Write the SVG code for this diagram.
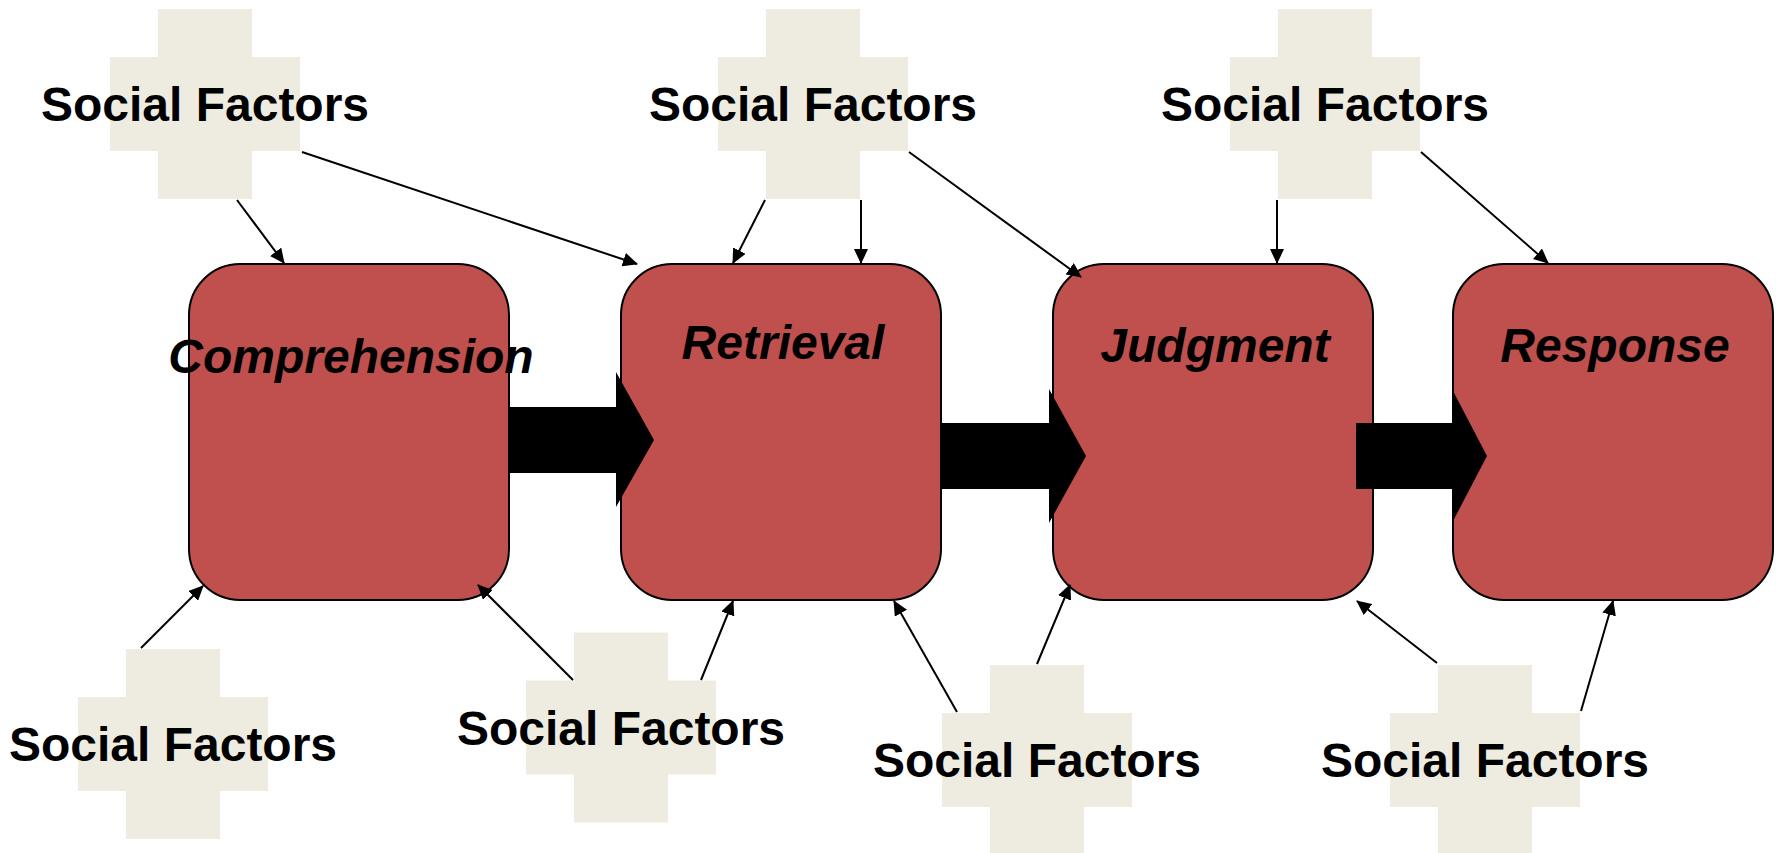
<svg xmlns="http://www.w3.org/2000/svg" width="1777" height="853" viewBox="0 0 1777 853">
<defs>
<style>
.box{fill:#C0504D;stroke:#000;stroke-width:2}
.cross{fill:#EEECE1}
.lbl{font-family:"Liberation Sans",Arial,sans-serif;font-size:48px;font-weight:bold;font-style:italic;fill:#000;text-anchor:middle}
.sf{font-family:"Liberation Sans",Arial,sans-serif;font-size:48px;font-weight:bold;fill:#000;text-anchor:middle}
.ln{stroke:#000;stroke-width:2;fill:none;marker-end:url(#ah)}
.blk{fill:#000}
</style>
<marker id="ah" viewBox="0 0 15 14" markerWidth="15" markerHeight="14" refX="14" refY="7" orient="auto" markerUnits="userSpaceOnUse">
<path d="M0,0 L15,7 L0,14 z" fill="#000"/>
</marker>
<path id="plus" d="M-47,-95 H47 V-47 H95 V47 H47 V95 H-47 V47 H-95 V-47 H-47 Z"/>
</defs>
<rect width="1777" height="853" fill="#fff"/>
<g id="comprehension"><rect class="box" x="189" y="264" width="320" height="336" rx="51" ry="51"/><text class="lbl" x="351" y="373">Comprehension</text></g>
<g id="retrieval"><rect class="box" x="621" y="264" width="320" height="336" rx="51" ry="51"/><text class="lbl" x="783" y="359">Retrieval</text></g>
<g id="judgment"><rect class="box" x="1053" y="264" width="320" height="336" rx="51" ry="51"/><text class="lbl" x="1215" y="362">Judgment</text></g>
<g id="response"><rect class="box" x="1453" y="264" width="320" height="336" rx="51" ry="51"/><text class="lbl" x="1615" y="362">Response</text></g>
<g id="sf1"><use href="#plus" class="cross" x="205" y="104"/><text class="sf" x="205" y="121">Social Factors</text></g>
<g id="sf2"><use href="#plus" class="cross" x="813" y="104"/><text class="sf" x="813" y="121">Social Factors</text></g>
<g id="sf3"><use href="#plus" class="cross" x="1325" y="104"/><text class="sf" x="1325" y="121">Social Factors</text></g>
<g id="sf4"><use href="#plus" class="cross" x="173" y="744"/><text class="sf" x="173" y="761">Social Factors</text></g>
<g id="sf5"><use href="#plus" class="cross" x="621" y="727.5"/><text class="sf" x="621" y="744.5">Social Factors</text></g>
<g id="sf6"><use href="#plus" class="cross" x="1037" y="760"/><text class="sf" x="1037" y="777">Social Factors</text></g>
<g id="sf7"><use href="#plus" class="cross" x="1485" y="760"/><text class="sf" x="1485" y="777">Social Factors</text></g>
<g id="connectors">
<polygon class="blk" points="509,407 616,407 616,372 654,440 616,507 616,473 509,473"/>
<polygon class="blk" points="941,423 1049,423 1049,389 1086,456 1049,523 1049,489 941,489"/>
<polygon class="blk" points="1356,423 1452,423 1452,389 1487,456 1452,523 1452,489 1356,489"/>
<line class="ln" x1="237" y1="200" x2="284" y2="263"/>
<line class="ln" x1="302" y1="152" x2="637" y2="264"/>
<line class="ln" x1="765" y1="200" x2="733" y2="263"/>
<line class="ln" x1="861" y1="200" x2="861" y2="263"/>
<line class="ln" x1="909" y1="152" x2="1081" y2="277"/>
<line class="ln" x1="1277" y1="200" x2="1277" y2="263"/>
<line class="ln" x1="1421" y1="152" x2="1548" y2="263"/>
<line class="ln" x1="141" y1="648" x2="203" y2="586"/>
<line class="ln" x1="573" y1="680" x2="478" y2="585"/>
<line class="ln" x1="701" y1="680" x2="733" y2="601"/>
<line class="ln" x1="957" y1="712" x2="894" y2="601"/>
<line class="ln" x1="1037" y1="664" x2="1070" y2="585"/>
<line class="ln" x1="1437" y1="663" x2="1357" y2="601"/>
<line class="ln" x1="1581" y1="711" x2="1613" y2="601"/>
</g>
</svg>
